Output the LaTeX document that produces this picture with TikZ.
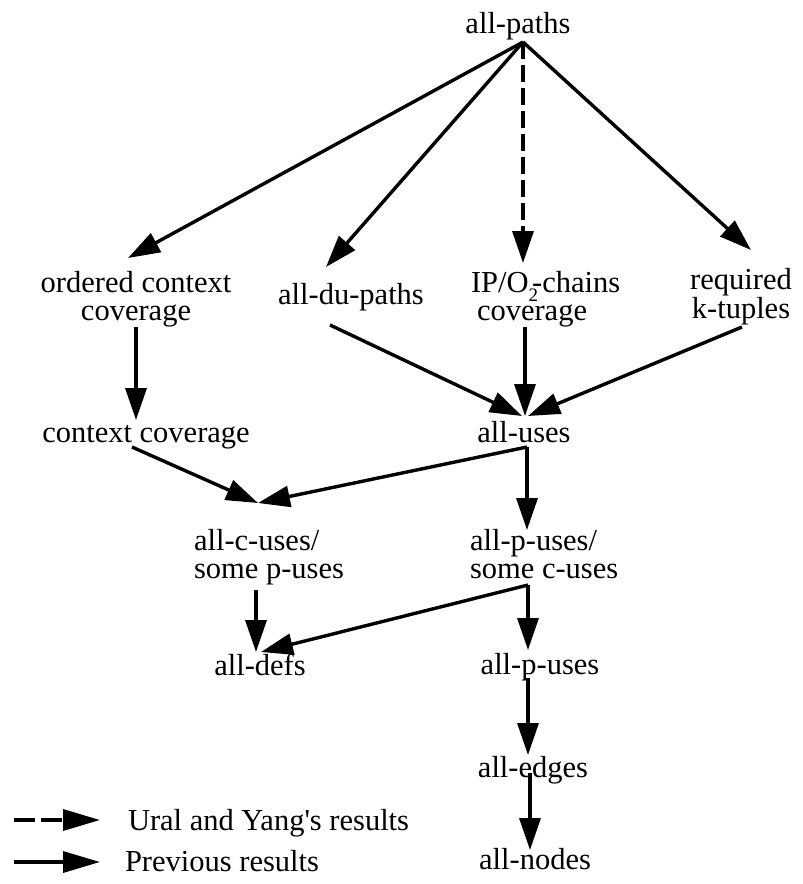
\documentclass[tikz,border=0pt]{standalone}
\usepackage{fontspec}
\setmainfont{Liberation Serif}
\usetikzlibrary{arrows.meta}

% two stacked lines whose baseline is that of the first line
\newcommand\twoline[3]{\begin{tabular}[t]{@{}#1@{}}#2\\#3\end{tabular}}

\begin{document}
\begin{tikzpicture}[x=1pt,y=-1pt,
  every node/.style={inner sep=0pt, outer sep=0pt, font=\fontsize{30.5}{28}\selectfont},
  link/.style={line width=3.4pt, -{Triangle[length=32pt,width=21pt]}},
  newresult/.style={link, dash pattern=on 17pt off 6pt},
  keyarrow/.style={line width=3.4pt, -{Triangle[length=37pt,width=21pt]}},
  keydashed/.style={keyarrow, dash pattern=on 21pt off 6pt},
]
\useasboundingbox (0,0) rectangle (803,884);

% criteria
\node[anchor=base] (allpaths) at (518,33) {all-paths};
\node[anchor=base] (ordered) at (136,292) {\twoline{c}{ordered context}{coverage}};
\node[anchor=base] (alldu) at (351,304) {all-du-paths};
\node[anchor=base west] (ipo) at (471,292)
  {\twoline{l}{IP/O\raisebox{-9pt}{\fontsize{19}{19}\selectfont 2}\kern-6pt-chains}{\hspace*{6pt}coverage}};
\node[anchor=base] (required) at (741,289) {\twoline{c}{required}{k-tuples}};
\node[anchor=base] (context) at (146,442) {context coverage};
\node[anchor=base] (alluses) at (524,442) {all-uses};
\node[anchor=base west] (cuses) at (194,550) {\twoline{l}{all-c-uses/}{some p-uses}};
\node[anchor=base west] (puses) at (470,550) {\twoline{l}{all-p-uses/}{some c-uses}};
\node[anchor=base] (alldefs) at (260,675) {all-defs};
\node[anchor=base] (allp) at (540,674) {all-p-uses};
\node[anchor=base] (alledges) at (533,777) {all-edges};
\node[anchor=base] (allnodes) at (535,869) {all-nodes};

% key
\node[anchor=base west] (keynew) at (128,830) {Ural and Yang\textquotesingle s results};
\node[anchor=base west] (keyold) at (125,871) {Previous results};

% subsumption relations
\draw[link] ([shift={(5,9)}]allpaths.base) -- ([shift={(-8,-34)}]ordered.base);
\draw[link] ([shift={(5,9)}]allpaths.base) -- ([shift={(-25,-37)}]alldu.base);
\draw[newresult] ([shift={(5,9)}]allpaths.base) -- ([shift={(52,-29)}]ipo.base west);
\draw[link] ([shift={(5,9)}]allpaths.base) -- ([shift={(10,-39)}]required.base);
\draw[link] ([shift={(0,35)}]ordered.base) -- ([shift={(-10,-22)}]context.base);
\draw[link] ([shift={(-21,21)}]alldu.base) -- ([shift={(-2,-26)}]alluses.base);
\draw[link] ([shift={(54,35)}]ipo.base west) -- ([shift={(1,-26)}]alluses.base);
\draw[link] ([shift={(1,38)}]required.base) -- ([shift={(4,-26)}]alluses.base);
\draw[link] ([shift={(-14,5)}]context.base) -- ([shift={(64,-47)}]cuses.base west);
\draw[link] ([shift={(3,5)}]alluses.base) -- ([shift={(64,-47)}]cuses.base west);
\draw[link] ([shift={(3,5)}]alluses.base) -- ([shift={(57,-20)}]puses.base west);
\draw[link] ([shift={(62,40)}]cuses.base west) -- ([shift={(-4,-23)}]alldefs.base);
\draw[link] ([shift={(58,35)}]puses.base west) -- ([shift={(1,-23)}]alldefs.base);
\draw[link] ([shift={(58,35)}]puses.base west) -- ([shift={(-12,-24)}]allp.base);
\draw[link] ([shift={(-12,4)}]allp.base) -- ([shift={(-5,-22)}]alledges.base);
\draw[link] ([shift={(-3,-4)}]alledges.base) -- ([shift={(-5,-19)}]allnodes.base);

% key arrows
\draw[keydashed] ([shift={(-114,-10)}]keynew.base west) -- ([shift={(-28,-10)}]keynew.base west);
\draw[keyarrow] ([shift={(-111,-9)}]keyold.base west) -- ([shift={(-25,-9)}]keyold.base west);
\end{tikzpicture}
\end{document}
